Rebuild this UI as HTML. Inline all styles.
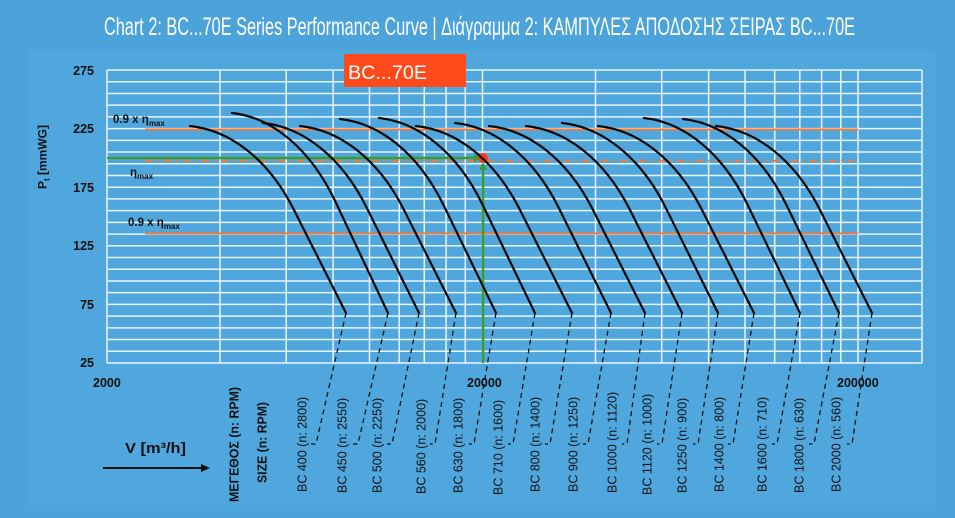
<!DOCTYPE html>
<html><head><meta charset="utf-8"><style>
html,body{margin:0;padding:0;background:#4ca3d9;}
svg{display:block;}
text{font-family:"Liberation Sans","DejaVu Sans",sans-serif;}
</style></head><body>
<svg width="955" height="518" viewBox="0 0 955 518" xmlns="http://www.w3.org/2000/svg">
<rect width="955" height="518" fill="#4ca3d9"/>
<rect x="27" y="50" width="908" height="455" fill="#50a7dd"/>

<text x="479.5" y="35" font-size="25" fill="#ffffff" text-anchor="middle" textLength="751" lengthAdjust="spacingAndGlyphs" style="font-family:'Liberation Sans Narrow','Liberation Sans',sans-serif">Chart 2: BC...70E Series Performance Curve | Διάγραμμα 2: ΚΑΜΠΥΛΕΣ ΑΠΟΔΟΣΗΣ ΣΕΙΡΑΣ BC...70E</text>

<!-- grid -->
<g stroke="#eaf4fb" stroke-width="1.5" fill="none">
<path d="M107 70H922M107 81.72H922M107 93.44H922M107 105.16H922M107 116.88H922M107 128.6H922M107 140.32H922M107 152.04H922M107 163.76H922M107 175.48H922M107 187.2H922M107 198.92H922M107 210.64H922M107 222.36H922M107 234.08H922M107 245.8H922M107 257.52H922M107 269.24H922M107 280.96H922M107 292.68H922M107 304.4H922M107 316.12H922M107 327.84H922M107 339.56H922M107 351.28H922M107 363H922"/>
<path d="M107 70V363M220 70V363M286.2 70V363M333.1 70V363M369.5 70V363M399.2 70V363M424.3 70V363M446.1 70V363M465.3 70V363M482.5 70V363M595.5 70V363M661.7 70V363M708.6 70V363M745 70V363M774.7 70V363M799.8 70V363M821.6 70V363M840.8 70V363M858 70V363M922 70V363"/>
</g>

<!-- orange lines -->
<g stroke="#f47a36" stroke-width="2" fill="none">
<path d="M145 129.5H858"/>
<path d="M145 233.5H858"/>
<path d="M145 160.8H853" stroke-dasharray="7 5 2 5"/>
</g>

<!-- green -->
<g stroke="#3d9b35" stroke-width="2.6" fill="none">
<path d="M107 158H476"/>
<path d="M483 363V168"/>
</g>
<polygon points="474,154 482,158 474,162" fill="#3d9b35"/>
<polygon points="479,170 483,162 487,170" fill="#3d9b35"/>
<circle cx="483" cy="158" r="5" fill="#ff3b10"/>

<!-- curves -->
<g stroke="#0a0a0a" stroke-width="2.2" fill="none" stroke-linecap="round">
<path d="M190 126c40 4 78 33.25 103 82l53 105"/>
<path d="M232 113c40 4.28 78 35.58 103 87.74l53 112.35"/>
<path d="M263 123c40 4.06 78 33.78 103 83.31l53 106.68"/>
<path d="M300 126c40 4 78 33.25 103 82l53 105"/>
<path d="M340 119c40 4.15 78 34.48 103 85.03l53 108.89"/>
<path d="M379 118c40 4.17 78 34.68 103 85.53l53 109.52"/>
<path d="M416 126c40 4 78 33.25 103 82l53 105"/>
<path d="M455 123c40 4.06 78 33.78 103 83.31l53 106.68"/>
<path d="M489 126c40 4 78 33.25 103 82l53 105"/>
<path d="M526 126c40 4 78 33.25 103 82l53 105"/>
<path d="M562 123c40 4.06 78 33.78 103 83.31l53 106.68"/>
<path d="M598 126c40 4 78 33.25 103 82l53 105"/>
<path d="M644 118c40 4.17 78 34.68 103 85.53l53 109.52"/>
<path d="M683 119c40 4.15 78 34.48 103 85.03l53 108.89"/>
<path d="M716 126c40 4 78 33.25 103 82l53 105"/>
</g>

<!-- dashed connectors -->
<g stroke="#111" stroke-width="1.3" fill="none" stroke-dasharray="5 4">
<path d="M346 313L316 444H311"/>
<path d="M388 313L358 444H353"/>
<path d="M419 313L392 444H387"/>
<path d="M456 313L435 444H430"/>
<path d="M496 313L474 444H469"/>
<path d="M535 313L513 444H508"/>
<path d="M572 313L550 444H545"/>
<path d="M611 313L588 444H583"/>
<path d="M645 313L627 444H622"/>
<path d="M682 313L662 444H657"/>
<path d="M718 313L698 444H693"/>
<path d="M754 313L733 444H728"/>
<path d="M800 313L777 444H772"/>
<path d="M839 313L814 444H809"/>
<path d="M872 313L852 444H847"/>
</g>

<!-- red box -->
<rect x="344" y="54" width="122" height="33" fill="#ff4a1c"/>
<text x="348" y="79" font-size="19" fill="#ffffff" textLength="79" lengthAdjust="spacingAndGlyphs">BC...70E</text>

<!-- annotations -->
<g font-weight="bold" font-size="11.5" fill="#111">
<text x="113" y="123">0.9 x η<tspan font-size="8" dy="3">max</tspan></text>
<text x="130" y="176">η<tspan font-size="8" dy="3">max</tspan></text>
<text x="128" y="226">0.9 x η<tspan font-size="8" dy="3">max</tspan></text>
</g>

<!-- y ticks -->
<g font-weight="bold" font-size="12.5" fill="#111" text-anchor="end">
<text x="94" y="75">275</text>
<text x="94" y="133">225</text>
<text x="94" y="192">175</text>
<text x="94" y="250">125</text>
<text x="94" y="309">75</text>
<text x="94" y="367">25</text>
</g>
<!-- x ticks -->
<g font-weight="bold" font-size="12.5" fill="#111">
<text x="93" y="387">2000</text>
<text x="467" y="387">20000</text>
<text x="837" y="387">200000</text>
</g>

<!-- y title -->
<text transform="translate(46.5,157) rotate(-90)" text-anchor="middle" font-weight="bold" font-size="12" fill="#111">P<tspan font-size="8" dy="3">t</tspan><tspan dy="-3"> [mmWG]</tspan></text>

<!-- x title -->
<text x="125" y="453" font-weight="bold" font-size="14.5" fill="#111" textLength="61" lengthAdjust="spacingAndGlyphs">V [m³/h]</text>
<path d="M103 468H203" stroke="#111" stroke-width="2"/>
<polygon points="201,464 210,468 201,472" fill="#111"/>

<!-- rotated labels -->
<g font-weight="bold" font-size="12.5" fill="#111">
<text transform="translate(238.5,502) rotate(-90)" textLength="115" lengthAdjust="spacingAndGlyphs">ΜΕΓΕΘΟΣ (n: RPM)</text>
<text transform="translate(266.5,483) rotate(-90)" textLength="81" lengthAdjust="spacingAndGlyphs">SIZE (n: RPM)</text>
</g>
<g font-size="12.5" fill="#111">
<text transform="translate(306.5,492) rotate(-90)">BC 400 (n: 2800)</text>
<text transform="translate(346.5,493) rotate(-90)">BC 450 (n: 2550)</text>
<text transform="translate(381.5,493) rotate(-90)">BC 500 (n: 2250)</text>
<text transform="translate(425.5,494) rotate(-90)">BC 560 (n: 2000)</text>
<text transform="translate(462.5,493) rotate(-90)">BC 630 (n: 1800)</text>
<text transform="translate(502.5,495) rotate(-90)">BC 710 (n: 1600)</text>
<text transform="translate(539.5,492) rotate(-90)">BC 800 (n: 1400)</text>
<text transform="translate(577.5,492) rotate(-90)">BC 900 (n: 1250)</text>
<text transform="translate(616.5,493) rotate(-90)">BC 1000 (n: 1120)</text>
<text transform="translate(651.5,495) rotate(-90)">BC 1120 (n: 1000)</text>
<text transform="translate(686.5,493) rotate(-90)">BC 1250 (n: 900)</text>
<text transform="translate(723.5,492) rotate(-90)">BC 1400 (n: 800)</text>
<text transform="translate(766.5,492) rotate(-90)">BC 1600 (n: 710)</text>
<text transform="translate(803.5,493) rotate(-90)">BC 1800 (n: 630)</text>
<text transform="translate(840.5,492) rotate(-90)">BC 2000 (n: 560)</text>
</g>
</svg>
</body></html>
